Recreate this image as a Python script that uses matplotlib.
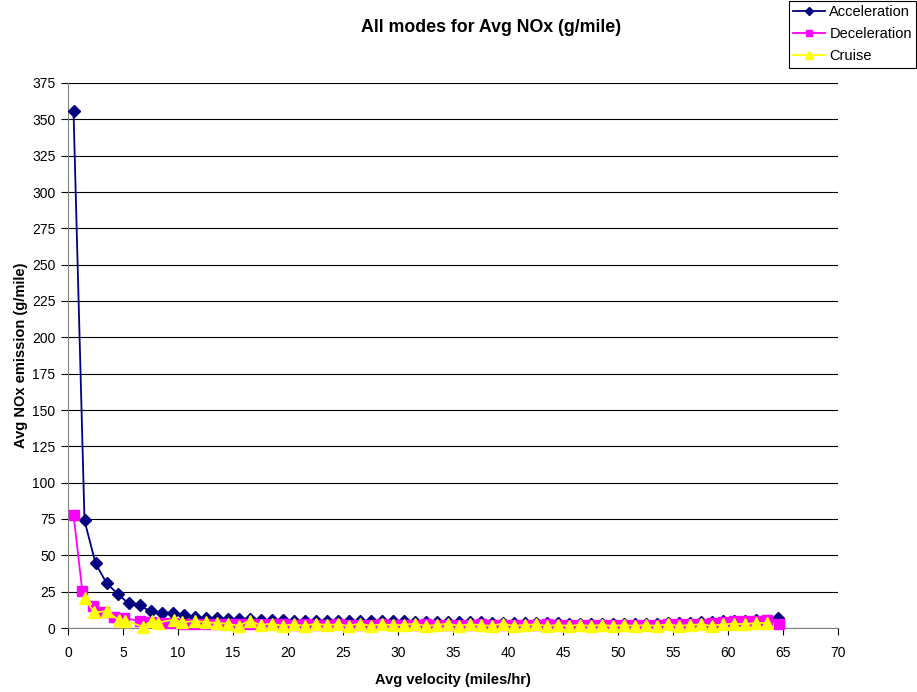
import matplotlib
matplotlib.use('Agg')
import matplotlib.pyplot as plt

plt.rcParams['font.family'] = ['Liberation Sans', 'DejaVu Sans']

# Acceleration
acc_x = [0.5, 1.5, 2.5, 3.5, 4.5, 5.5, 6.5, 7.5, 8.5, 9.5,
         10.5, 11.5, 12.5, 13.5, 14.5, 15.5, 16.5, 17.5, 18.5, 19.5,
         20.5, 21.5, 22.5, 23.5, 24.5, 25.5, 26.5, 27.5, 28.5, 29.5,
         30.5, 31.5, 32.5, 33.5, 34.5, 35.5, 36.5, 37.5, 38.5, 39.5,
         40.5, 41.5, 42.5, 43.5, 44.5, 45.5, 46.5, 47.5, 48.5, 49.5,
         50.5, 51.5, 52.5, 53.5, 54.5, 55.5, 56.5, 57.5, 58.5, 59.5,
         60.5, 61.5, 62.5, 63.5, 64.5]
acc_y = [356, 74, 44.5, 31, 23.5, 17, 15.5, 11.5, 10.5, 10.5,
         9, 7.5, 7, 7, 6.5, 6, 6, 5.5, 5.5, 5.5,
         5, 5, 5, 5, 5, 5, 4.5, 4.5, 4.5, 4.5,
         4.5, 4, 4, 4, 4, 4, 4, 4, 3.5, 3.5,
         3.5, 3.5, 3.5, 3.5, 3.5, 3, 3, 3, 3, 3,
         3, 3, 3, 3, 3.5, 3.5, 3.5, 4, 4, 4.5,
         5, 4.5, 5.5, 5, 7]

# Deceleration
dec_x = [0.5, 1.3, 2.3, 3.3, 4.2, 5.1, 6.5, 7.5, 8.5, 9.5,
         10.5, 11.5, 12.5, 13.5, 14.5, 15.5, 16.5, 17.5, 18.5, 19.5,
         20.5, 21.5, 22.5, 23.5, 24.5, 25.5, 26.5, 27.5, 28.5, 29.5,
         30.5, 31.5, 32.5, 33.5, 34.5, 35.5, 36.5, 37.5, 38.5, 39.5,
         40.5, 41.5, 42.5, 43.5, 44.5, 45.5, 46.5, 47.5, 48.5, 49.5,
         50.5, 51.5, 52.5, 53.5, 54.5, 55.5, 56.5, 57.5, 58.5, 59.5,
         60.5, 61.5, 62.5, 63.5, 64.6]
dec_y = [78, 25.5, 15.3, 11, 7.6, 7, 4.6, 4, 3.5, 3.5,
         3, 3, 3, 2.5, 2.5, 2.5, 2.5, 2.5, 2.5, 2.5,
         2, 2.5, 2, 2, 2.5, 2, 2, 2, 2.5, 2,
         2, 2, 2.5, 2, 2, 2, 2, 2.5, 2, 2,
         2, 2, 2, 2.5, 2, 2, 2, 2, 2, 2,
         2, 2, 2, 2, 2.5, 2.5, 3, 3, 3.5, 4,
         4.5, 4.5, 5, 5.5, 3]

# Cruise
cru_x = [1.5, 2.4, 3.5, 4.6, 5.2, 6.8, 7.6, 8.2, 9.6, 10.4,
         11.5, 12.5, 13.5, 14.5, 15.5, 16.5, 17.5, 18.5, 19.5, 20.5,
         21.5, 22.5, 23.5, 24.5, 25.5, 26.5, 27.5, 28.5, 29.5, 30.5,
         31.5, 32.5, 33.5, 34.5, 35.5, 36.5, 37.5, 38.5, 39.5, 40.5,
         41.5, 42.5, 43.5, 44.5, 45.5, 46.5, 47.5, 48.5, 49.5, 50.5,
         51.5, 52.5, 53.5, 54.5, 55.5, 56.5, 57.5, 58.5, 59.5, 60.5,
         61.5, 62.5, 63.5]
cru_y = [20.4, 10.7, 11.6, 5.6, 5, 0.9, 5, 3.7, 5.8, 3.8,
         5, 3.9, 3.5, 3, 1.5, 5, 2, 3, 1.5, 2.5,
         1.5, 3, 2, 2.5, 1.5, 3, 1.5, 2.5, 2, 2,
         3, 1.5, 2, 3, 1.5, 2.5, 2, 1.5, 3, 1.5,
         2, 2.5, 1.5, 2, 1.5, 2, 1.5, 2, 1.5, 2,
         1.5, 2, 1.5, 2.5, 1.5, 2, 2.5, 1.5, 2.5, 3,
         2.5, 3.5, 3.5]

fig = plt.figure(figsize=(9.17, 6.92), dpi=100)
ax = fig.add_axes([68 / 917, 1 - 628 / 692, 770 / 917, 545 / 692])

ax.plot(acc_x, acc_y, color='#000080', marker='D', markersize=6, lw=1.3,
        label='Acceleration', clip_on=False, zorder=3)
ax.plot(dec_x, dec_y, color='#FF00FF', marker='s', markersize=6.5, lw=1.3,
        label='Deceleration', clip_on=False, zorder=4)
ax.plot(cru_x, cru_y, color='#FFFF00', marker='^', markersize=8, lw=1.3,
        label='Cruise', clip_on=False, zorder=5)

ax.set_xlim(0, 70)
ax.set_ylim(0, 375)
ax.set_xticks(range(0, 71, 5))
ax.set_yticks(range(0, 376, 25))
ax.tick_params(labelsize=10, direction='out', length=5, width=0.8)
ax.tick_params(axis='x', pad=8)
ax.tick_params(axis='y', pad=4)
ax.grid(axis='y', color='black', lw=0.8)
ax.set_axisbelow(True)
for s in ['top', 'right']:
    ax.spines[s].set_visible(False)
for s in ['left', 'bottom']:
    ax.spines[s].set_color('#808080')

ax.set_xlabel('Avg velocity (miles/hr)', fontsize=10.5, fontweight='bold', labelpad=9)
ax.set_ylabel('Avg NOx emission (g/mile)', fontsize=10.5, fontweight='bold', labelpad=3)

fig.text(491 / 917, 1 - 28 / 692, 'All modes for Avg NOx (g/mile)', ha='center', va='center',
         fontsize=12.8, fontweight='bold')

leg = fig.legend(loc='upper right', bbox_to_anchor=(1.0, 1.0), fontsize=10.5,
                 frameon=True, fancybox=False, edgecolor='black', framealpha=1,
                 borderpad=0.3, labelspacing=0.55, handlelength=2.2, handletextpad=0.3,
                 borderaxespad=0.05, markerscale=0.75)
leg.get_frame().set_linewidth(0.8)

fig.savefig('out.png', dpi=100)
